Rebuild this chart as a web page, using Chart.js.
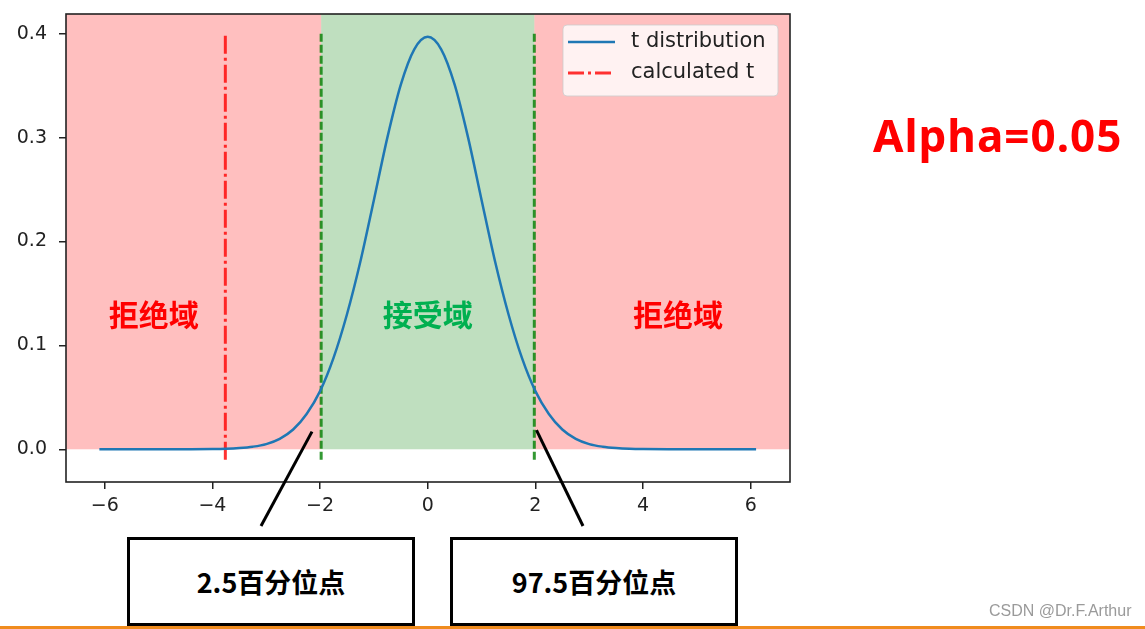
<!DOCTYPE html>
<html>
<head>
<meta charset="utf-8">
<script src="https://cdn.jsdelivr.net/npm/chart.js@4"></script>
<style>
  html, body { margin: 0; padding: 0; background: #fff; }
  #wrap { position: absolute; left: 0; top: 0; width: 1145px; height: 629px; overflow: hidden; }
  #chartBox { position: absolute; left: 0; top: 0; width: 1145px; height: 629px; }
  .note { position: absolute; font-family: 'Noto Sans CJK SC', 'Noto Sans', sans-serif; font-weight: bold; }
  .pctBox { position: absolute; box-sizing: border-box; border: 3px solid #000; background: #fff;
            display: flex; align-items: center; justify-content: center;
            font-family: 'Noto Sans CJK SC', sans-serif; font-weight: bold; font-size: 27px; color: #000; }
</style>
</head>
<body>
<div id="wrap">
  <div id="chartBox"><canvas id="chartT"></canvas></div>
  <div class="note" style="left:873px; top:113px; font-family:'Noto Sans', sans-serif; font-size:44px; line-height:44px; letter-spacing:1px; color:#ff0000;">Alpha=0.05</div>
  <div class="pctBox" style="left:127px; top:537px; width:288px; height:89px;">2.5百分位点</div>
  <div class="pctBox" style="left:450px; top:537px; width:288px; height:89px;">97.5百分位点</div>
  <div style="position:absolute; left:989px; top:602px; font-family:'Liberation Sans', Arial, sans-serif; font-size:16px; color:#9a9a9a;">CSDN @Dr.F.Arthur</div>
  <div style="position:absolute; left:0; top:626px; width:1145px; height:3px; background:#f08c1e;"></div>
</div>
<script>
// valores
const tValues = [-6.1, -5.5, -5, -4.5, -4, -3.75, -3.5, -3.25, -3, -2.75, -2.5, -2.25, -2, -1.75, -1.5, -1.25, -1, -0.75, -0.5, -0.25,
                 0, 0.25, 0.5, 0.75, 1, 1.25, 1.5, 1.75, 2, 2.25, 2.5, 2.75, 3, 3.25, 3.5, 3.75, 4, 4.5, 5, 5.5, 6.1];
const density = [0, 0, 0.00001, 0.00004, 0.0002, 0.0005, 0.0012, 0.0025, 0.005, 0.010, 0.019, 0.034, 0.056, 0.088, 0.130, 0.181, 0.240, 0.300, 0.351, 0.385,
                 0.397, 0.385, 0.351, 0.300, 0.240, 0.181, 0.130, 0.088, 0.056, 0.034, 0.019, 0.010, 0.005, 0.0025, 0.0012, 0.0005, 0.0002, 0.00004, 0.00001, 0, 0];
const calculatedT = -3.76;
const criticalT = [-1.98, 1.98];
const vLineSpan = [-0.01, 0.4];
const xTicks = [-6, -4, -2, 0, 2, 4, 6];
const yTicks = [0.0, 0.1, 0.2, 0.3, 0.4];
const legendLabels = ['t distribution', 'calculated t'];
const regionLabels = [
    { text: '拒绝域', x: -5.09, y: 0.13, color: '#ff0000' },
    { text: '接受域', x: 0, y: 0.13, color: '#00b050' },
    { text: '拒绝域', x: 4.65, y: 0.13, color: '#ff0000' }
];
// puntos de las flechas (extremo superior en datos)
const calloutTops = [[-2.15, 0.017], [2.02, 0.0185]];
const calloutBottoms = [[261, 526], [583, 526]];

const curvePoints = tValues.map((x, i) => ({ x: x, y: density[i] }));

const regionsPlugin = {
    id: 'regions',
    beforeDatasetsDraw(chart) {
        const { ctx, chartArea, scales } = chart;
        const xs = scales.x, ys = scales.y;
        const y0 = ys.getPixelForValue(0);
        const xl = xs.getPixelForValue(criticalT[0]);
        const xr = xs.getPixelForValue(criticalT[1]);
        ctx.save();
        ctx.fillStyle = 'rgba(255,0,0,0.25)';
        ctx.fillRect(chartArea.left, chartArea.top, xl - chartArea.left, y0 - chartArea.top);
        ctx.fillRect(xr, chartArea.top, chartArea.right - xr, y0 - chartArea.top);
        ctx.fillStyle = 'rgba(0,128,0,0.25)';
        ctx.fillRect(xl, chartArea.top, xr - xl, y0 - chartArea.top);
        ctx.restore();
    },
    afterDatasetsDraw(chart) {
        const { ctx, chartArea, scales } = chart;
        ctx.save();
        ctx.font = 'bold 30px "Noto Sans CJK SC"';
        ctx.textAlign = 'center';
        ctx.textBaseline = 'middle';
        regionLabels.forEach(r => {
            ctx.fillStyle = r.color;
            ctx.fillText(r.text, scales.x.getPixelForValue(r.x), scales.y.getPixelForValue(r.y));
        });
        // marco
        ctx.strokeStyle = '#222';
        ctx.lineWidth = 1.6;
        ctx.strokeRect(chartArea.left, chartArea.top, chartArea.right - chartArea.left, chartArea.bottom - chartArea.top);

        // leyenda
        const lx = 563, ly = 25, lw = 215, lh = 71;
        ctx.fillStyle = 'rgba(255,255,255,0.8)';
        ctx.strokeStyle = 'rgba(204,204,204,0.8)';
        ctx.lineWidth = 1;
        ctx.beginPath();
        ctx.roundRect(lx, ly, lw, lh, 4);
        ctx.fill();
        ctx.stroke();
        const rows = [
            { y: 42, color: '#1f77b4', dash: [] },
            { y: 73, color: 'rgba(255,0,0,0.8)', dash: [16, 4, 3, 4] }
        ];
        rows.forEach((row, i) => {
            ctx.strokeStyle = row.color;
            ctx.lineWidth = i === 0 ? 2.5 : 3;
            ctx.setLineDash(row.dash);
            ctx.beginPath();
            ctx.moveTo(568, row.y);
            ctx.lineTo(615, row.y);
            ctx.stroke();
            ctx.setLineDash([]);
            ctx.fillStyle = '#222';
            ctx.font = '21px "DejaVu Sans"';
            ctx.textAlign = 'left';
            ctx.fillText(legendLabels[i], 631, row.y);
        });

        // flechas a las cajas
        ctx.strokeStyle = '#000';
        ctx.lineWidth = 3;
        calloutTops.forEach((p, i) => {
            ctx.beginPath();
            ctx.moveTo(scales.x.getPixelForValue(p[0]), scales.y.getPixelForValue(p[1]));
            ctx.lineTo(calloutBottoms[i][0], calloutBottoms[i][1]);
            ctx.stroke();
        });
        ctx.restore();
    }
};

const ctxT = document.getElementById('chartT').getContext('2d');
new Chart(ctxT, {
    type: 'scatter',
    data: {
        datasets: [
            {
                label: legendLabels[0],
                data: curvePoints,
                showLine: true,
                borderColor: '#1f77b4',
                borderWidth: 2.5,
                pointRadius: 0,
                cubicInterpolationMode: 'monotone'
            },
            {
                label: legendLabels[1],
                data: vLineSpan.map(v => ({ x: calculatedT, y: v })),
                showLine: true,
                borderColor: 'rgba(255,0,0,0.8)',
                borderWidth: 3,
                borderDash: [18, 4, 3, 4],
                pointRadius: 0
            },
            {
                label: 'lower',
                data: vLineSpan.map(v => ({ x: criticalT[0], y: v })),
                showLine: true,
                borderColor: 'rgba(0,128,0,0.8)',
                borderWidth: 3,
                borderDash: [8, 3],
                pointRadius: 0
            },
            {
                label: 'upper',
                data: vLineSpan.map(v => ({ x: criticalT[1], y: v })),
                showLine: true,
                borderColor: 'rgba(0,128,0,0.8)',
                borderWidth: 3,
                borderDash: [8, 3],
                pointRadius: 0
            }
        ]
    },
    options: {
        responsive: true,
        maintainAspectRatio: false,
        animation: false,
        devicePixelRatio: 1,
        layout: { padding: { left: 0, top: 14, right: 355, bottom: 0 } },
        plugins: {
            legend: { display: false },
            tooltip: { enabled: false }
        },
        scales: {
            x: {
                type: 'linear',
                min: -6.72,
                max: 6.73,
                afterBuildTicks: scale => { scale.ticks = xTicks.map(v => ({ value: v })); },
                afterFit: scale => { scale.height = 147; scale.paddingLeft = 0; scale.paddingRight = 0; },
                border: { display: false },
                grid: { display: true, drawOnChartArea: false, drawTicks: true, tickLength: 7, color: '#222', lineWidth: 1.5 },
                ticks: {
                    color: '#222',
                    padding: 6,
                    maxRotation: 0,
                    autoSkip: false,
                    font: { family: 'DejaVu Sans', size: 19 },
                    callback: v => v < 0 ? '\u2212' + Math.abs(v) : String(v)
                }
            },
            y: {
                min: -0.0315,
                max: 0.419,
                afterBuildTicks: scale => { scale.ticks = yTicks.map(v => ({ value: v })); },
                afterFit: scale => { scale.width = 66; scale.paddingTop = 0; scale.paddingBottom = 0; },
                border: { display: false },
                grid: { display: true, drawOnChartArea: false, drawTicks: true, tickLength: 7, color: '#222', lineWidth: 1.5 },
                ticks: {
                    color: '#222',
                    padding: 12,
                    font: { family: 'DejaVu Sans', size: 19 },
                    callback: v => v.toFixed(1)
                }
            }
        }
    },
    plugins: [regionsPlugin]
});
</script>
</body>
</html>
